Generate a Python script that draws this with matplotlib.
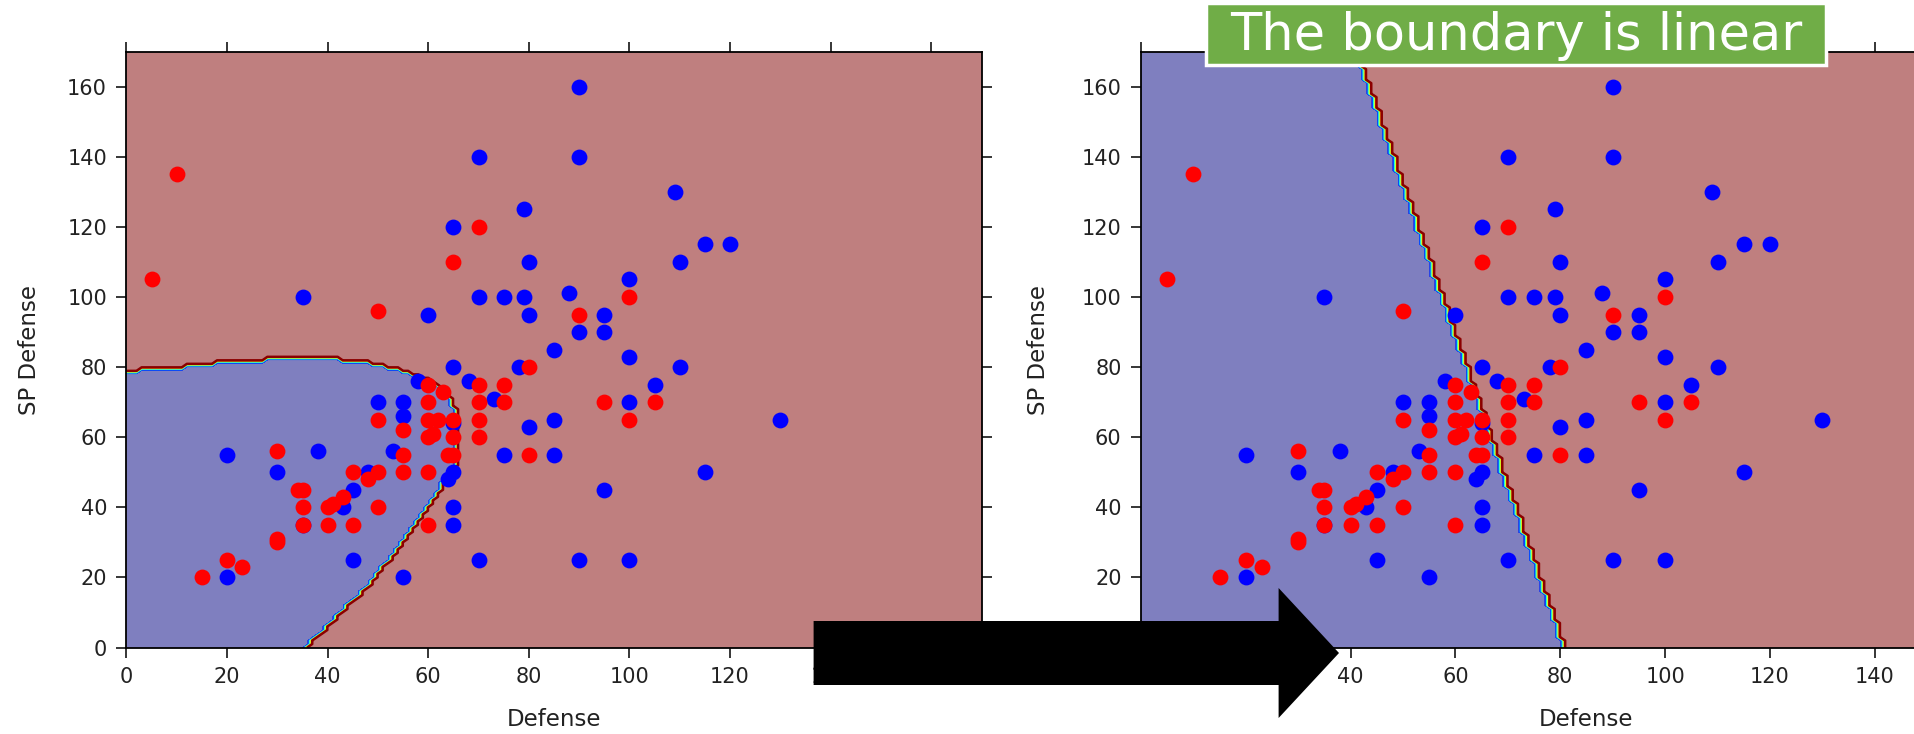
import numpy as np
import matplotlib
matplotlib.use("Agg")
import matplotlib.pyplot as plt
from matplotlib.path import Path
from matplotlib.patches import Rectangle, Polygon

# points (Defense, SP Defense)
blue_defense = [90, 70, 90, 109, 79, 65, 115, 120, 80, 110, 100, 35, 70, 75, 79, 88, 60, 80, 95, 90,
                95, 85, 100, 65, 78, 110, 58, 68, 105, 73, 50, 55, 100, 55, 65, 85, 130, 80, 53, 38,
                20, 75, 85, 30, 48, 65, 64, 115, 45, 95, 43, 65, 35, 65, 45, 70, 90, 100, 20, 55]
blue_sp_defense = [160, 140, 140, 130, 125, 120, 115, 115, 110, 110, 105, 100, 100, 100, 100, 101, 95, 95, 95, 90,
                   90, 85, 83, 80, 80, 80, 76, 76, 75, 71, 70, 70, 70, 66, 64, 65, 65, 63, 56, 56,
                   55, 55, 55, 50, 50, 50, 48, 50, 45, 45, 40, 40, 35, 35, 25, 25, 25, 25, 20, 20]
red_defense = [10, 5, 70, 65, 50, 100, 90, 80, 60, 63, 70, 75, 60, 70, 75, 95, 105, 50, 60, 62,
               65, 70, 100, 55, 60, 61, 65, 70, 30, 55, 64, 65, 80, 45, 50, 55, 60, 48, 34, 35,
               43, 41, 40, 35, 50, 35, 40, 45, 60, 30, 30, 20, 23, 15]
red_sp_defense = [135, 105, 120, 110, 96, 100, 95, 80, 75, 73, 75, 75, 70, 70, 70, 70, 70, 65, 65, 65,
                  65, 65, 65, 62, 60, 61, 60, 60, 56, 55, 55, 55, 55, 50, 50, 50, 50, 48, 45, 45,
                  43, 41, 40, 40, 40, 35, 35, 35, 35, 31, 30, 25, 23, 20]

# outline of the blue class region, left plot (quadratic boundary);
# the corner points sit just outside the axes so the frame edges stay clean
quad_region_x = [-5, -5, 5, 10, 15, 22, 28, 35, 42, 46, 50, 53, 56, 59, 63, 65, 65.6, 65.8,
                 65.2, 63.6, 61.6, 58, 53.4, 47.8, 42.1, 35.6, 32.5]
quad_region_y = [-5, 78.3, 79.3, 79.8, 80.8, 81.5, 82.1, 82.2, 82.1, 81.5, 80.6, 79.7, 78.2, 77, 73.9, 68.6, 63, 57,
                 52, 49, 43.9, 36.3, 27.4, 17.2, 9.5, 0, -5]
# right plot (linear boundary)
lin_region_x = [-5, -5, 39.9, 81.8]
lin_region_y = [-5, 175, 175, -5]

axis_ticks = [0, 20, 40, 60, 80, 100, 120, 140, 160]
note_text = "The boundary is linear"

W, H = 1915, 734
fig = plt.figure(figsize=(W / 100, H / 100), dpi=100, facecolor="white")

gx, gy = np.meshgrid(np.arange(0, 171, 1.0), np.arange(0, 171, 1.0))
grid_pts = np.column_stack([gx.ravel(), gy.ravel()])


def draw_panel(ax, region_x, region_y, ylabel_x):
    inside = Path(np.column_stack([region_x, region_y])).contains_points(grid_pts)
    z = np.where(inside, 0.0, 1.0).reshape(gx.shape)
    ax.contourf(gx, gy, z, levels=np.linspace(-0.05, 1.05, 12), cmap="jet",
                vmin=0, vmax=1, alpha=0.5, zorder=1)
    ax.contour(gx, gy, z, levels=[0.2, 0.4, 0.6, 0.8], cmap="jet", vmin=0, vmax=1,
               linewidths=1.0, zorder=1.5)
    ax.contour(gx, gy, z, levels=[0.93], colors="#8b0000", linewidths=1.8, zorder=1.6)

    ax.scatter(blue_defense, blue_sp_defense, c="blue", s=130, lw=0, zorder=3)
    ax.scatter(red_defense, red_sp_defense, c="red", s=130, lw=0, zorder=3)

    ax.set_xlim(0, 170)
    ax.set_ylim(0, 170)
    ax.set_xticks(axis_ticks)
    ax.set_yticks(axis_ticks)
    ax.tick_params(direction="out", length=7, width=1.1, top=True, right=True,
                   labelsize=15, pad=7, labelcolor="#222222")
    for sp in ax.spines.values():
        sp.set_linewidth(1.3)
    ax.set_xlabel("Defense", fontsize=16.5, color="#222222")
    ax.set_ylabel("SP Defense", fontsize=16.5, color="#222222")
    ax.xaxis.set_label_coords(0.5, -0.12)
    ax.xaxis.label.set_va("center")
    ax.yaxis.set_label_coords(ylabel_x, 0.5)
    ax.yaxis.label.set_va("center")


ax1 = fig.add_axes([126.5 / W, 0.1178, 855 / W, 0.8119])
draw_panel(ax1, quad_region_x, quad_region_y, -0.113)

ax2 = fig.add_axes([1141 / W, 0.1178, 891 / W, 0.8119])
draw_panel(ax2, lin_region_x, lin_region_y, -0.115)
# the last tick label of the right plot falls outside the picture
ax2.set_xticklabels([str(t) for t in axis_ticks[:-1]] + [""])

# big black arrow (pixels, y from top of image)
tail_x, base_x, tip_x, mid_y = 813.6, 1278.6, 1339.0, 653.0
shaft_half, head_half = 32.0, 65.0
arrow_px = [(tail_x, mid_y - shaft_half), (base_x, mid_y - shaft_half), (base_x, mid_y - head_half),
            (tip_x, mid_y), (base_x, mid_y + head_half), (base_x, mid_y + shaft_half),
            (tail_x, mid_y + shaft_half)]
arrow = Polygon([(x / W, 1 - y / H) for x, y in arrow_px], closed=True, facecolor="black",
                edgecolor="none", transform=fig.transFigure, zorder=10)
fig.add_artist(arrow)

# green note box
box = Rectangle((1206 / W, 1 - 65 / H), (1826 - 1206) / W, 62 / H, facecolor="#70AD47",
                edgecolor="white", lw=2.5, transform=fig.transFigure, zorder=10)
fig.add_artist(box)
note = fig.text(1516 / W, 1 - 50 / H, note_text, color="white", ha="center", va="baseline",
                family="DejaVu Sans", fontsize=32, zorder=11)
fig.canvas.draw()
w = note.get_window_extent().width
note.set_fontsize(32 * 572 / w)

fig.savefig("out.png", dpi=100, facecolor="white")
